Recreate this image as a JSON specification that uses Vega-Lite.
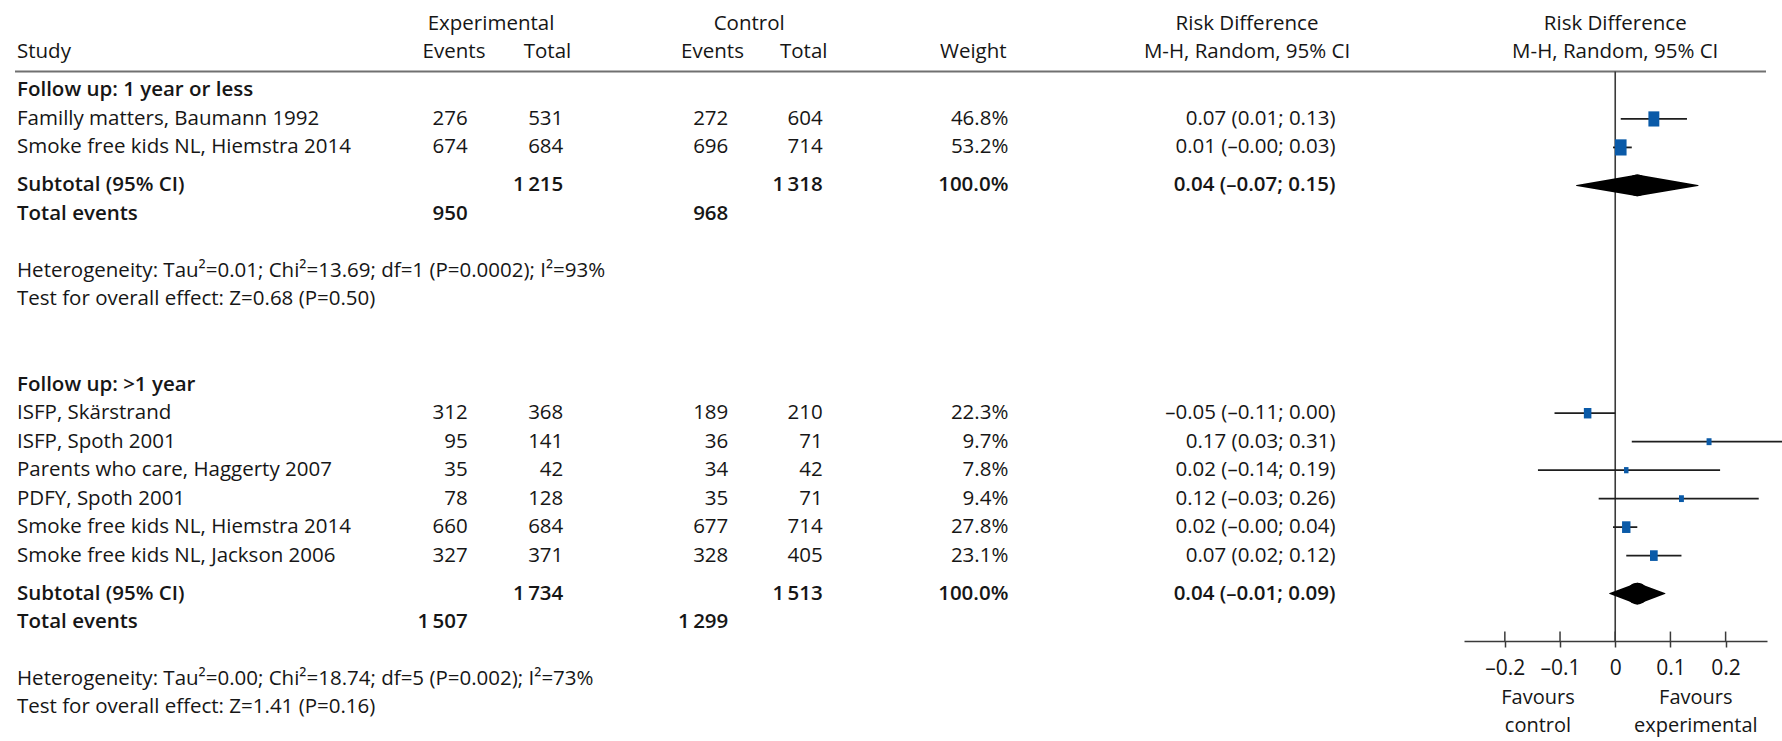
{
  "$schema": "https://vega.github.io/schema/vega-lite/v6.json",
  "width": 1751,
  "height": 741,
  "autosize": "none",
  "padding": {"left": 15, "right": 16, "top": 0, "bottom": 0},
  "background": "#ffffff",
  "config": {
    "view": {"stroke": null},
    "locale": {"number": {"decimal": ".", "thousands": "\u2009", "grouping": [3], "currency": ["", ""], "minus": "\u2013"}},
    "text": {"font": "Open Sans", "fontSize": 20.5, "color": "#161616", "baseline": "middle"}
  },
  "data": {
    "values": [
      {"key": "g1_head", "kind": "heading", "label": "Follow up: 1 year or less"},
      {"key": "g1_s1", "kind": "study", "label": "Familly matters, Baumann 1992", "ee": 276, "et": 531, "ce": 272, "ct": 604, "weight": 0.468, "rd": 0.07, "lo": 0.01, "hi": 0.13, "ci": "0.07 (0.01; 0.13)"},
      {"key": "g1_s2", "kind": "study", "label": "Smoke free kids NL, Hiemstra 2014", "ee": 674, "et": 684, "ce": 696, "ct": 714, "weight": 0.532, "rd": 0.01, "lo": -0.004, "hi": 0.03, "ci": "0.01 (\u20130.00; 0.03)"},
      {"key": "g1_sub", "kind": "subtotal", "label": "Subtotal (95% CI)", "et": 1215, "ct": 1318, "weight": 1, "rd": 0.04, "lo": -0.07, "hi": 0.15, "ci": "0.04 (\u20130.07; 0.15)"},
      {"key": "g1_tot", "kind": "total", "label": "Total events", "ee": 950, "ce": 968},
      {"key": "g1_het", "kind": "note", "label": "Heterogeneity: Tau\u00b2=0.01; Chi\u00b2=13.69; df=1 (P=0.0002); I\u00b2=93%"},
      {"key": "g1_test", "kind": "note", "label": "Test for overall effect: Z=0.68 (P=0.50)"},
      {"key": "g2_head", "kind": "heading", "label": "Follow up: >1 year"},
      {"key": "g2_s1", "kind": "study", "label": "ISFP, Sk\u00e4rstrand", "ee": 312, "et": 368, "ce": 189, "ct": 210, "weight": 0.223, "rd": -0.05, "lo": -0.11, "hi": 0.0, "ci": "\u20130.05 (\u20130.11; 0.00)"},
      {"key": "g2_s2", "kind": "study", "label": "ISFP, Spoth 2001", "ee": 95, "et": 141, "ce": 36, "ct": 71, "weight": 0.097, "rd": 0.17, "lo": 0.03, "hi": 0.31, "ci": "0.17 (0.03; 0.31)"},
      {"key": "g2_s3", "kind": "study", "label": "Parents who care, Haggerty 2007", "ee": 35, "et": 42, "ce": 34, "ct": 42, "weight": 0.078, "rd": 0.02, "lo": -0.14, "hi": 0.19, "ci": "0.02 (\u20130.14; 0.19)"},
      {"key": "g2_s4", "kind": "study", "label": "PDFY, Spoth 2001", "ee": 78, "et": 128, "ce": 35, "ct": 71, "weight": 0.094, "rd": 0.12, "lo": -0.03, "hi": 0.26, "ci": "0.12 (\u20130.03; 0.26)"},
      {"key": "g2_s5", "kind": "study", "label": "Smoke free kids NL, Hiemstra 2014", "ee": 660, "et": 684, "ce": 677, "ct": 714, "weight": 0.278, "rd": 0.02, "lo": -0.004, "hi": 0.04, "ci": "0.02 (\u20130.00; 0.04)"},
      {"key": "g2_s6", "kind": "study", "label": "Smoke free kids NL, Jackson 2006", "ee": 327, "et": 371, "ce": 328, "ct": 405, "weight": 0.231, "rd": 0.07, "lo": 0.02, "hi": 0.12, "ci": "0.07 (0.02; 0.12)"},
      {"key": "g2_sub", "kind": "subtotal", "label": "Subtotal (95% CI)", "et": 1734, "ct": 1513, "weight": 1, "rd": 0.04, "lo": -0.01, "hi": 0.09, "ci": "0.04 (\u20130.01; 0.09)"},
      {"key": "g2_tot", "kind": "total", "label": "Total events", "ee": 1507, "ce": 1299},
      {"key": "g2_het", "kind": "note", "label": "Heterogeneity: Tau\u00b2=0.00; Chi\u00b2=18.74; df=5 (P=0.002); I\u00b2=73%"},
      {"key": "g2_test", "kind": "note", "label": "Test for overall effect: Z=1.41 (P=0.16)"}
    ]
  },
  "resolve": {"scale": {"x": "independent", "size": "independent"}},
  "layer": [
    {
      "data": {"values": [{"line": "header"}]},
      "mark": {"type": "rule", "stroke": "#707070", "strokeWidth": 2},
      "encoding": {
        "y": {"datum": "rule", "type": "nominal", "axis": null,
          "scale": {"type": "point", "padding": 0.53, "domain": ["s00","s01","hdr1","s03","s04","hdr2","s06","rule","s08","g1_head","s10","s11","g1_s1","s13","s14","g1_s2","s16","s17","s18","g1_sub","s20","s21","g1_tot","s23","s24","s25","s26","s27","g1_het","s29","s30","g1_test","s32","s33","s34","s35","s36","s37","s38","s39","g2_head","s41","s42","g2_s1","s44","s45","g2_s2","s47","s48","g2_s3","s50","s51","g2_s4","s53","s54","g2_s5","s56","s57","g2_s6","s59","s60","s61","g2_sub","s63","s64","g2_tot","tick","axis","s68","s69","s70","g2_het","s72","fav1","g2_test","s75","fav2","s77"]}}
      }
    },
    {
      "encoding": {"x": {"datum": "study", "type": "nominal", "bandPosition": 0, "axis": null, "scale": {"type": "band", "domain": ["study"], "range": [2, 402], "paddingInner": 0, "paddingOuter": 0}}},
      "layer": [
        {"transform": [{"filter": "datum.kind === 'study' || datum.kind === 'note'"}],
         "mark": {"type": "text", "align": "left"},
         "encoding": {"y": {"field": "key", "type": "nominal", "axis": null}, "text": {"field": "label"}}},
        {"transform": [{"filter": "datum.kind === 'heading' || datum.kind === 'subtotal' || datum.kind === 'total'"}],
         "mark": {"type": "text", "align": "left", "fontWeight": 600},
         "encoding": {"y": {"field": "key", "type": "nominal", "axis": null}, "text": {"field": "label"}}},
        {"data": {"values": [{"h": "Study"}]},
         "mark": {"type": "text", "align": "left"},
         "encoding": {"y": {"datum": "hdr2", "type": "nominal", "axis": null}, "text": {"field": "h"}}}
      ]
    },
    {
      "data": {"values": [{"h": "Experimental"}]},
      "mark": {"type": "text", "align": "center"},
      "encoding": {
        "x": {"datum": "Experimental", "type": "nominal", "bandPosition": 0.5, "axis": null, "scale": {"type": "band", "domain": ["Experimental"], "range": [436, 516], "paddingInner": 0, "paddingOuter": 0}},
        "y": {"datum": "hdr1", "type": "nominal", "axis": null},
        "text": {"field": "h"}
      }
    },
    {
      "encoding": {"x": {"datum": "ee", "type": "nominal", "bandPosition": 1, "axis": null, "scale": {"type": "band", "domain": ["ee"], "range": [425.3, 452.7], "paddingInner": 0, "paddingOuter": 0}}},
      "layer": [
        {"transform": [{"filter": "datum.kind === 'study'"}],
         "mark": {"type": "text", "align": "right"},
         "encoding": {"y": {"field": "key", "type": "nominal", "axis": null}, "text": {"field": "ee", "type": "quantitative", "format": ",d"}}},
        {"transform": [{"filter": "datum.kind === 'total'"}],
         "mark": {"type": "text", "align": "right", "fontWeight": 600},
         "encoding": {"y": {"field": "key", "type": "nominal", "axis": null}, "text": {"field": "ee", "type": "quantitative", "format": ",d"}}},
        {"data": {"values": [{"h": "Events"}]},
         "mark": {"type": "text", "align": "center"},
         "encoding": {"x": {"datum": "ee", "type": "nominal", "bandPosition": 0.5, "axis": null}, "y": {"datum": "hdr2", "type": "nominal", "axis": null}, "text": {"field": "h"}}}
      ]
    },
    {
      "encoding": {"x": {"datum": "et", "type": "nominal", "bandPosition": 1, "axis": null, "scale": {"type": "band", "domain": ["et"], "range": [516.7, 548.3], "paddingInner": 0, "paddingOuter": 0}}},
      "layer": [
        {"transform": [{"filter": "datum.kind === 'study'"}],
         "mark": {"type": "text", "align": "right"},
         "encoding": {"y": {"field": "key", "type": "nominal", "axis": null}, "text": {"field": "et", "type": "quantitative", "format": ",d"}}},
        {"transform": [{"filter": "datum.kind === 'subtotal'"}],
         "mark": {"type": "text", "align": "right", "fontWeight": 600},
         "encoding": {"y": {"field": "key", "type": "nominal", "axis": null}, "text": {"field": "et", "type": "quantitative", "format": ",d"}}},
        {"data": {"values": [{"h": "Total"}]},
         "mark": {"type": "text", "align": "center"},
         "encoding": {"x": {"datum": "et", "type": "nominal", "bandPosition": 0.5, "axis": null}, "y": {"datum": "hdr2", "type": "nominal", "axis": null}, "text": {"field": "h"}}}
      ]
    },
    {
      "data": {"values": [{"h": "Control"}]},
      "mark": {"type": "text", "align": "center"},
      "encoding": {
        "x": {"datum": "Control", "type": "nominal", "bandPosition": 0.5, "axis": null, "scale": {"type": "band", "domain": ["Control"], "range": [694.2, 774.2], "paddingInner": 0, "paddingOuter": 0}},
        "y": {"datum": "hdr1", "type": "nominal", "axis": null},
        "text": {"field": "h"}
      }
    },
    {
      "encoding": {"x": {"datum": "ce", "type": "nominal", "bandPosition": 1, "axis": null, "scale": {"type": "band", "domain": ["ce"], "range": [681.7, 713.3], "paddingInner": 0, "paddingOuter": 0}}},
      "layer": [
        {"transform": [{"filter": "datum.kind === 'study'"}],
         "mark": {"type": "text", "align": "right"},
         "encoding": {"y": {"field": "key", "type": "nominal", "axis": null}, "text": {"field": "ce", "type": "quantitative", "format": ",d"}}},
        {"transform": [{"filter": "datum.kind === 'total'"}],
         "mark": {"type": "text", "align": "right", "fontWeight": 600},
         "encoding": {"y": {"field": "key", "type": "nominal", "axis": null}, "text": {"field": "ce", "type": "quantitative", "format": ",d"}}},
        {"data": {"values": [{"h": "Events"}]},
         "mark": {"type": "text", "align": "center"},
         "encoding": {"x": {"datum": "ce", "type": "nominal", "bandPosition": 0.5, "axis": null}, "y": {"datum": "hdr2", "type": "nominal", "axis": null}, "text": {"field": "h"}}}
      ]
    },
    {
      "encoding": {"x": {"datum": "ct", "type": "nominal", "bandPosition": 1, "axis": null, "scale": {"type": "band", "domain": ["ct"], "range": [769.7, 807.7], "paddingInner": 0, "paddingOuter": 0}}},
      "layer": [
        {"transform": [{"filter": "datum.kind === 'study'"}],
         "mark": {"type": "text", "align": "right"},
         "encoding": {"y": {"field": "key", "type": "nominal", "axis": null}, "text": {"field": "ct", "type": "quantitative", "format": ",d"}}},
        {"transform": [{"filter": "datum.kind === 'subtotal'"}],
         "mark": {"type": "text", "align": "right", "fontWeight": 600},
         "encoding": {"y": {"field": "key", "type": "nominal", "axis": null}, "text": {"field": "ct", "type": "quantitative", "format": ",d"}}},
        {"data": {"values": [{"h": "Total"}]},
         "mark": {"type": "text", "align": "center"},
         "encoding": {"x": {"datum": "ct", "type": "nominal", "bandPosition": 0.5, "axis": null}, "y": {"datum": "hdr2", "type": "nominal", "axis": null}, "text": {"field": "h"}}}
      ]
    },
    {
      "encoding": {"x": {"datum": "weight", "type": "nominal", "bandPosition": 1, "axis": null, "scale": {"type": "band", "domain": ["weight"], "range": [923.2, 993.4], "paddingInner": 0, "paddingOuter": 0}}},
      "layer": [
        {"transform": [{"filter": "datum.kind === 'study'"}],
         "mark": {"type": "text", "align": "right"},
         "encoding": {"y": {"field": "key", "type": "nominal", "axis": null}, "text": {"field": "weight", "type": "quantitative", "format": ".1%"}}},
        {"transform": [{"filter": "datum.kind === 'subtotal'"}],
         "mark": {"type": "text", "align": "right", "fontWeight": 600},
         "encoding": {"y": {"field": "key", "type": "nominal", "axis": null}, "text": {"field": "weight", "type": "quantitative", "format": ".1%"}}},
        {"data": {"values": [{"h": "Weight"}]},
         "mark": {"type": "text", "align": "center"},
         "encoding": {"x": {"datum": "weight", "type": "nominal", "bandPosition": 0.5, "axis": null}, "y": {"datum": "hdr2", "type": "nominal", "axis": null}, "text": {"field": "h"}}}
      ]
    },
    {
      "encoding": {"x": {"datum": "ci", "type": "nominal", "bandPosition": 1, "axis": null, "scale": {"type": "band", "domain": ["ci"], "range": [1143.5, 1320.5], "paddingInner": 0, "paddingOuter": 0}}},
      "layer": [
        {"transform": [{"filter": "datum.kind === 'study'"}],
         "mark": {"type": "text", "align": "right"},
         "encoding": {"y": {"field": "key", "type": "nominal", "axis": null}, "text": {"field": "ci"}}},
        {"transform": [{"filter": "datum.kind === 'subtotal'"}],
         "mark": {"type": "text", "align": "right", "fontWeight": 600},
         "encoding": {"y": {"field": "key", "type": "nominal", "axis": null}, "text": {"field": "ci"}}},
        {"data": {"values": [{"h": "Risk Difference", "line": "hdr1"}, {"h": "M-H, Random, 95% CI", "line": "hdr2"}]},
         "mark": {"type": "text", "align": "center"},
         "encoding": {"x": {"datum": "ci", "type": "nominal", "bandPosition": 0.5, "axis": null}, "y": {"field": "line", "type": "nominal", "axis": null}, "text": {"field": "h"}}}
      ]
    },
    {
      "data": {"values": [{"ref": 0}]},
      "mark": {"type": "rule", "stroke": "#3a3a3a", "strokeWidth": 1.6},
      "encoding": {
        "x": {"field": "ref", "type": "quantitative", "axis": null, "scale": {"domain": [-0.274, 0.275], "range": [1449, 1752], "nice": false, "zero": false}},
        "y": {"datum": "rule", "type": "nominal", "axis": null},
        "y2": {"datum": "axis"}
      }
    },
    {
      "transform": [{"filter": "datum.kind === 'study'"}],
      "mark": {"type": "rule", "stroke": "#1e1e1e", "strokeWidth": 1.8},
      "encoding": {
        "x": {"field": "lo", "type": "quantitative", "axis": null, "scale": {"domain": [-0.274, 0.275], "range": [1449, 1752], "nice": false, "zero": false}},
        "x2": {"field": "hi"},
        "y": {"field": "key", "type": "nominal", "axis": null}
      }
    },
    {
      "transform": [{"filter": "datum.kind === 'study'"}],
      "mark": {"type": "point", "shape": "M-0.72,-1H0.72V1H-0.72Z", "filled": true, "opacity": 1, "color": "#0a5aa8", "strokeWidth": 0},
      "encoding": {
        "x": {"field": "rd", "type": "quantitative", "axis": null, "scale": {"domain": [-0.274, 0.275], "range": [1449, 1752], "nice": false, "zero": false}},
        "y": {"field": "key", "type": "nominal", "axis": null},
        "size": {"field": "weight", "type": "quantitative", "legend": null, "scale": {"domain": [0, 1], "range": [0, 491]}}
      }
    },
    {
      "transform": [{"filter": "datum.kind === 'subtotal'"}, {"fold": ["lo", "rd"], "as": ["part", "value"]}],
      "mark": {"type": "trail", "color": "#000000"},
      "encoding": {
        "x": {"field": "value", "type": "quantitative", "axis": null, "scale": {"domain": [-0.274, 0.275], "range": [1449, 1752], "nice": false, "zero": false}},
        "y": {"field": "key", "type": "nominal", "axis": null},
        "detail": {"field": "key"},
        "order": {"field": "value", "type": "quantitative"},
        "size": {"field": "part", "type": "ordinal", "legend": null, "scale": {"type": "point", "domain": ["lo", "rd"], "range": [0, 21.6], "padding": 0}}
      }
    },
    {
      "transform": [{"filter": "datum.kind === 'subtotal'"}, {"fold": ["rd", "hi"], "as": ["part", "value"]}],
      "mark": {"type": "trail", "color": "#000000"},
      "encoding": {
        "x": {"field": "value", "type": "quantitative", "axis": null, "scale": {"domain": [-0.274, 0.275], "range": [1449, 1752], "nice": false, "zero": false}},
        "y": {"field": "key", "type": "nominal", "axis": null},
        "detail": {"field": "key"},
        "order": {"field": "value", "type": "quantitative"},
        "size": {"field": "part", "type": "ordinal", "legend": null, "scale": {"type": "point", "domain": ["hi", "rd"], "range": [0, 21.6], "padding": 0}}
      }
    },
    {
      "data": {"values": [{"t": -0.2}, {"t": -0.1}, {"t": 0}, {"t": 0.1}, {"t": 0.2}]},
      "mark": {"type": "rule", "stroke": "#3a3a3a", "strokeWidth": 1.5},
      "encoding": {
        "x": {"field": "t", "type": "quantitative",
          "scale": {"domain": [-0.274, 0.275], "range": [1449, 1752], "nice": false, "zero": false},
          "axis": {"orient": "bottom", "offset": -100, "values": [-0.2, -0.1, 0, 0.1, 0.2], "format": "~g", "title": null, "grid": false,
            "domainColor": "#3a3a3a", "domainWidth": 1.5, "tickColor": "#3a3a3a", "tickWidth": 1.5, "tickSize": 6,
            "labelFont": "Open Sans", "labelFontSize": 21, "labelColor": "#161616", "labelPadding": 10, "labelFlush": false}},
        "y": {"datum": "tick", "type": "nominal", "axis": null},
        "y2": {"datum": "axis"}
      }
    },
    {
      "data": {"values": [{"t": "Favours", "line": "fav1"}, {"t": "control", "line": "fav2"}]},
      "mark": {"type": "text", "align": "center", "fontSize": 20},
      "encoding": {
        "x": {"datum": -0.14, "type": "quantitative", "axis": null, "scale": {"domain": [-0.274, 0.275], "range": [1449, 1752], "nice": false, "zero": false}},
        "y": {"field": "line", "type": "nominal", "axis": null},
        "text": {"field": "t"}
      }
    },
    {
      "data": {"values": [{"t": "Favours", "line": "fav1"}, {"t": "experimental", "line": "fav2"}]},
      "mark": {"type": "text", "align": "center", "fontSize": 20},
      "encoding": {
        "x": {"datum": 0.146, "type": "quantitative", "axis": null, "scale": {"domain": [-0.274, 0.275], "range": [1449, 1752], "nice": false, "zero": false}},
        "y": {"field": "line", "type": "nominal", "axis": null},
        "text": {"field": "t"}
      }
    },
    {
      "data": {"values": [{"h": "Risk Difference", "line": "hdr1"}, {"h": "M-H, Random, 95% CI", "line": "hdr2"}]},
      "mark": {"type": "text", "align": "center"},
      "encoding": {
        "x": {"datum": 0, "type": "quantitative", "axis": null, "scale": {"domain": [-0.274, 0.275], "range": [1449, 1752], "nice": false, "zero": false}},
        "y": {"field": "line", "type": "nominal", "axis": null},
        "text": {"field": "h"}
      }
    }
  ]
}
